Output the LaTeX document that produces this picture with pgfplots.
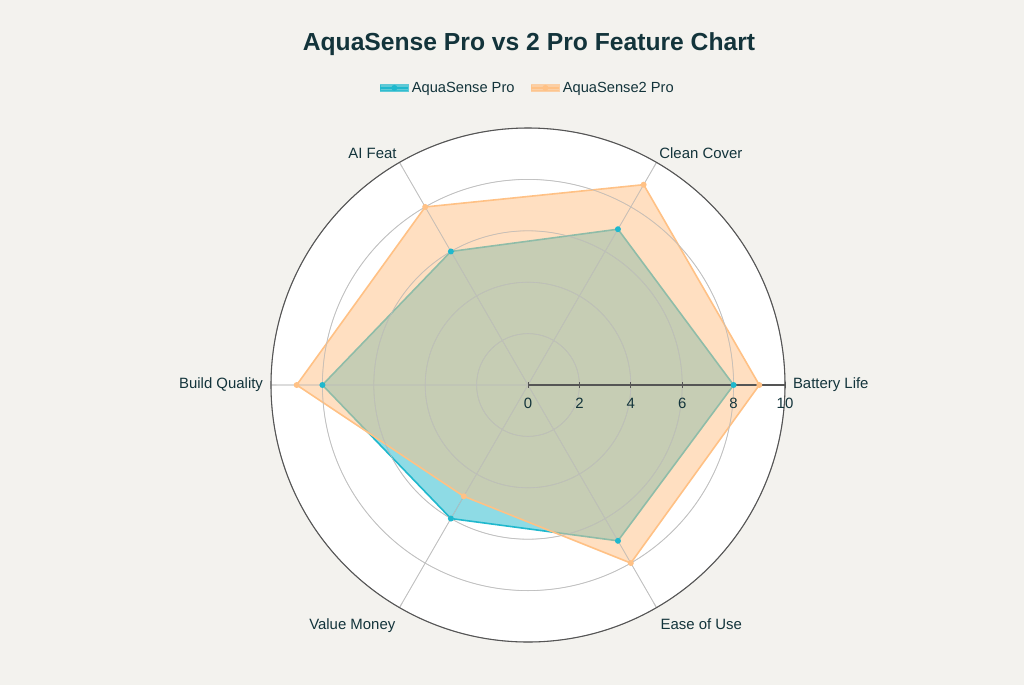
\documentclass[border=0pt]{standalone}
\usepackage{pgfplots}
\pgfplotsset{compat=1.18}
\usepgfplotslibrary{polar}
\usepackage{fontspec}
\setmainfont{Liberation Sans}
\definecolor{bgcol}{HTML}{F3F2EE}
\definecolor{txt}{HTML}{13343B}
\definecolor{proteal}{HTML}{1FB8CD}
\definecolor{proorange}{HTML}{FFC185}
\definecolor{gridgray}{HTML}{CCCCCC}
\definecolor{axisgray}{HTML}{555555}
\pgfplotsset{radarbase/.style={
  scale only axis, width=385.5pt, height=385.5pt,
  at={(396pt,-288.75pt)}, anchor=center,
  ymin=0, ymax=10,
  xtick={0,60,...,300}, xticklabels={},
  ytick={0,2,...,10},
  major tick length=4pt,
  xtick align=outside, ytick align=center,
  clip=false,
}}
\begin{document}
\begin{tikzpicture}
\fill[bgcol] (0,0) rectangle (768pt,-513.75pt);
\useasboundingbox (0,0) rectangle (768pt,-513.75pt);
\fill[white] (396pt,-288.75pt) circle (192.75pt);
\node[font=\bfseries\fontsize{18.5}{22}\selectfont, text=txt] at (396.75pt,-33pt) {AquaSense Pro vs 2 Pro Feature Chart};
% grid under the fills
\begin{polaraxis}[radarbase,
  yticklabels={},
  axis line style={draw=none},
  grid=major,
  major grid style={gridgray, line width=0.6pt},
  x tick style={gridgray, line width=0.6pt},
  y tick style={draw=none},
]
\end{polaraxis}
% series, axis line and numbers above them
\begin{polaraxis}[radarbase,
  axis on top,
  axis line style={axisgray, line width=0.8pt},
  yticklabel style={anchor=north, yshift=-8.5pt, text=txt, font=\fontsize{11.2}{13}\selectfont},
  /pgf/number format/assume math mode=true,
  x tick style={draw=none},
  y tick style={axisgray, line width=0.6pt},
  legend style={at={(0.5,1.078)}, anchor=center, draw=none, fill=none,
    legend columns=2, font=\fontsize{11}{13}\selectfont, text=txt,
    /tikz/every even column/.append style={column sep=10pt}},
]
\addplot[draw=proteal, fill=proteal, fill opacity=0.5, line width=1.2pt,
  mark=*, mark size=1.6pt, mark options={fill=proteal, fill opacity=1},
  legend image code/.code={
    \fill[proteal, opacity=0.7] (0pt,-2.5pt) rectangle (21pt,2.5pt);
    \draw[proteal, line width=1pt] (0pt,0pt) -- (21pt,0pt);
    \fill[proteal] (10.5pt,0pt) circle (1.6pt);}]
  coordinates {(0,8) (60,7) (120,6) (180,8) (240,6) (300,7)} -- cycle;
\addlegendentry{AquaSense Pro}
\addplot[draw=proorange, fill=proorange, fill opacity=0.5, line width=1.2pt,
  mark=*, mark size=1.6pt, mark options={fill=proorange, fill opacity=1},
  legend image code/.code={
    \fill[proorange, opacity=0.7] (0pt,-2.5pt) rectangle (21pt,2.5pt);
    \draw[proorange, line width=1pt] (0pt,0pt) -- (21pt,0pt);
    \fill[proorange] (10.5pt,0pt) circle (1.6pt);}]
  coordinates {(0,9) (60,9) (120,8) (180,9) (240,5) (300,8)} -- cycle;
\addlegendentry{AquaSense2 Pro}
% category names at the ends of the spokes
\begin{scope}[every node/.style={text=txt, font=\fontsize{11.2}{13}\selectfont, inner sep=1pt}]
\node[anchor=west] at (axis cs:0,10.25) {Battery Life};
\node[anchor=south west] at (axis cs:60,10.1) {Clean Cover};
\node[anchor=south east] at (axis cs:120,10.1) {AI Feat};
\node[anchor=east] at (axis cs:180,10.25) {Build Quality};
\node[anchor=north east, yshift=-3.5pt] at (axis cs:240,10.2) {Value Money};
\node[anchor=north west, yshift=-3.5pt] at (axis cs:300,10.2) {Ease of Use};
\end{scope}
\end{polaraxis}
\end{tikzpicture}
\end{document}
